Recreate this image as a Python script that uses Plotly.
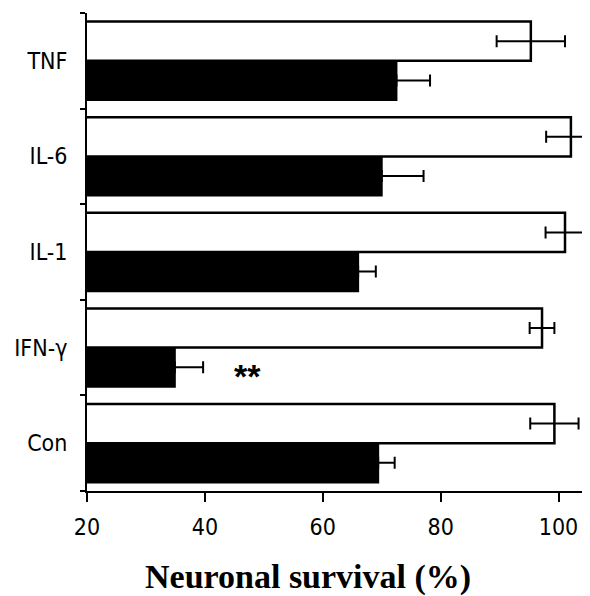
import plotly.graph_objects as go

categories = ["Con", "IFN-γ", "IL-1", "IL-6", "TNF"]
treated = [99.3, 97.2, 101.1, 102.1, 95.3]
treated_err = [4.1, 2.1, 3.3, 4.2, 5.8]
control = [69.4, 34.9, 66.0, 70.0, 72.5]
control_err = [2.8, 4.8, 3.0, 7.1, 5.7]
x_ticks = [20, 40, 60, 80, 100]

tick_font = dict(family="DejaVu Sans Condensed, DejaVu Sans", size=23, color="black")

fig = go.Figure()
fig.add_trace(go.Bar(
    y=categories, x=control, orientation="h",
    marker=dict(color="black", line=dict(color="black", width=2)),
    error_x=dict(type="data", array=control_err, arrayminus=[0]*5,
                 color="black", thickness=2, width=6),
    showlegend=False))
fig.add_trace(go.Bar(
    y=categories, x=treated, orientation="h",
    marker=dict(color="white", line=dict(color="black", width=2.5)),
    error_x=dict(type="data", array=treated_err, color="black",
                 thickness=2, width=6),
    showlegend=False))

fig.add_annotation(x=47.3, y="IFN-γ", yshift=-28, text="<b>**</b>",
                   showarrow=False, font=dict(size=34, color="black",
                                              family="Liberation Sans"))
fig.add_annotation(xref="paper", yref="paper", x=0.441, y=-0.18,
                   xanchor="center", yanchor="middle",
                   text="<b>Neuronal survival (%)</b>", showarrow=False,
                   font=dict(family="Liberation Serif", size=34, color="black"))

fig.update_layout(
    width=590, height=596,
    margin=dict(l=79, r=10, t=5, b=113),
    paper_bgcolor="white", plot_bgcolor="white",
    barmode="group", bargap=0.18, bargroupgap=0,
    xaxis=dict(range=[20, 105], tickvals=x_ticks, showgrid=False,
               zeroline=False, showline=True, linecolor="black", linewidth=2,
               ticks="outside", ticklen=9, tickwidth=2, tickcolor="black",
               ticklabelstandoff=5, automargin=False, tickfont=tick_font),
    yaxis=dict(categoryorder="array", categoryarray=categories,
               range=[-0.5, 4.5], showgrid=False, zeroline=False,
               showline=True, linecolor="black", linewidth=2,
               ticks="outside", tickson="boundaries", ticklen=5, tickwidth=2,
               tickcolor="black", ticklabelstandoff=13, automargin=False,
               tickfont=tick_font),
)
fig.write_html("out.html")
